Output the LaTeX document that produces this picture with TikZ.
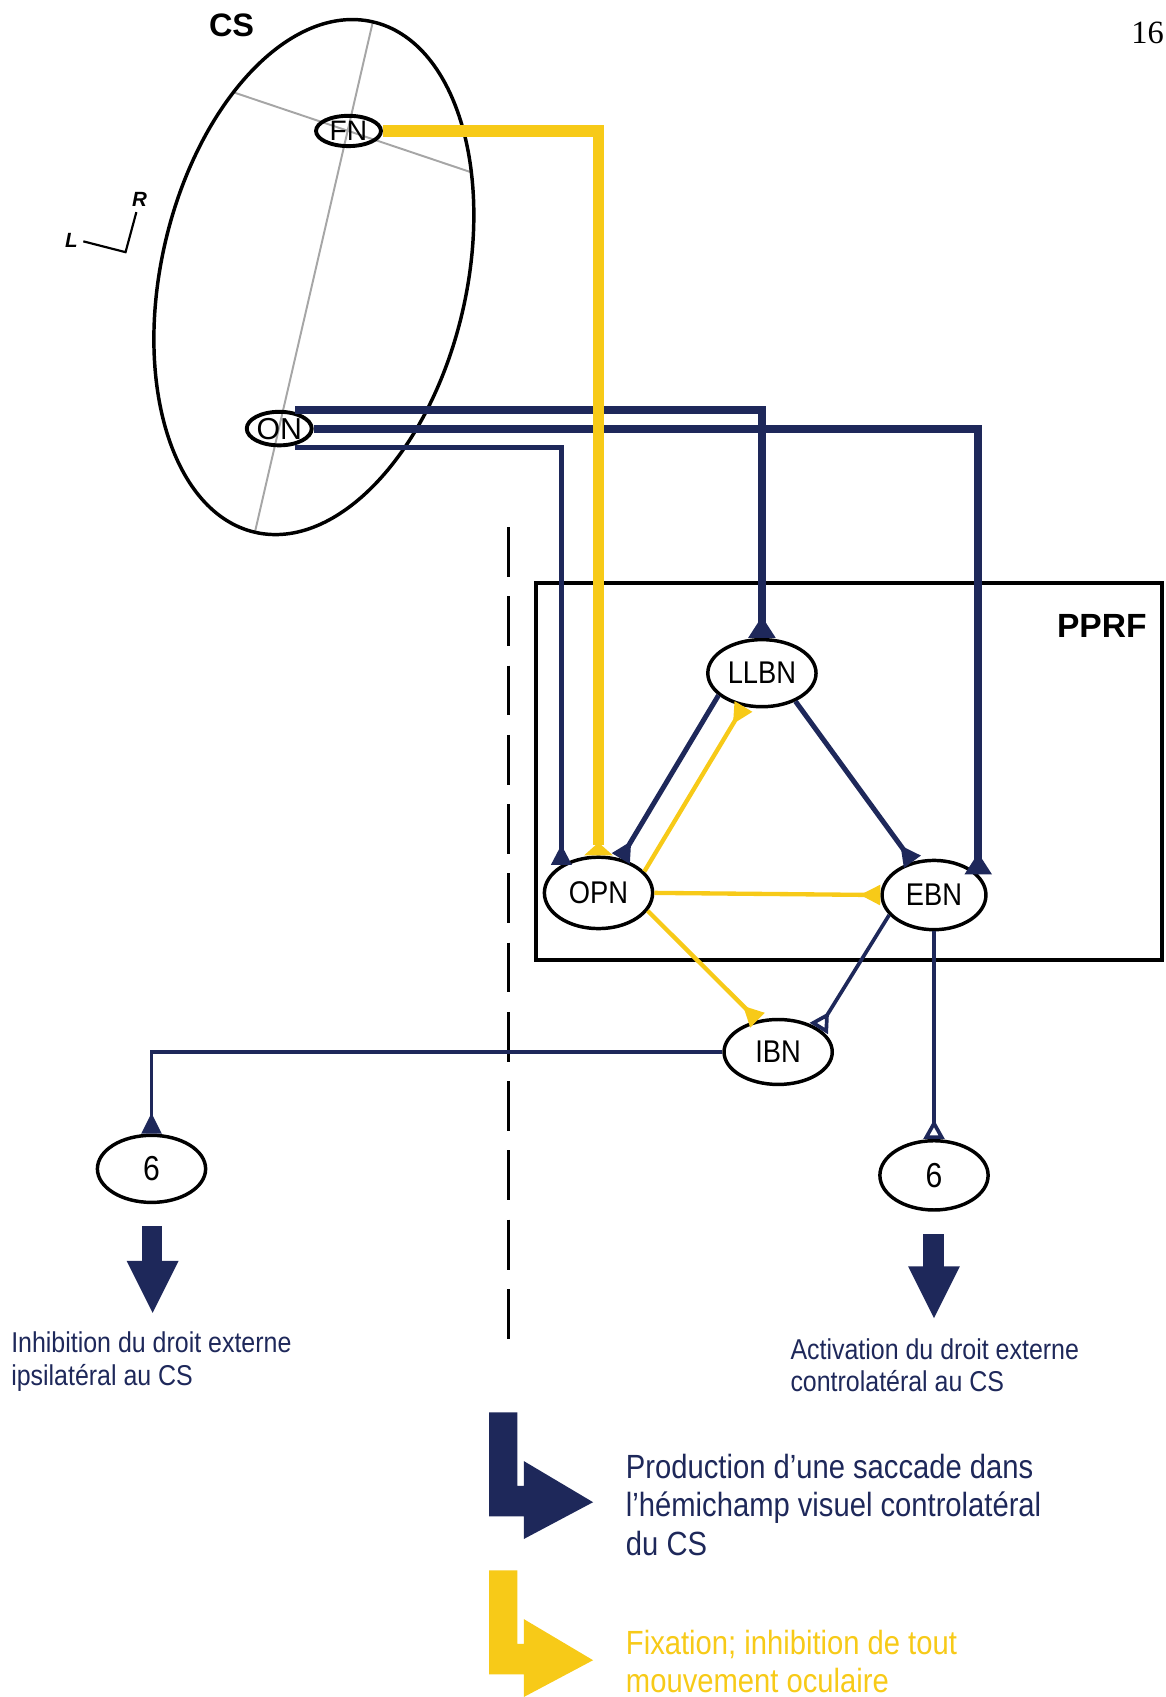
\documentclass[tikz,border=0pt]{standalone}
\usepackage{fontspec}
\setmainfont{Liberation Sans}
\newfontfamily\narrowsans{Liberation Sans}[FakeStretch=0.87]
\newfontfamily\numserif{Liberation Serif}
\usetikzlibrary{shapes.geometric,arrows.meta}
\definecolor{navy}{RGB}{30,40,90}
\definecolor{gold}{RGB}{247,202,24}
\tikzset{
  tipbig/.tip={Triangle[reversed,width=12pt,length=10pt]},
  tipsm/.tip={Triangle[reversed,width=9pt,length=9.5pt]},
  tipopen/.tip={Triangle[reversed,open,width=9.5pt,length=9pt]},
  tipflare/.tip={Triangle[reversed,width=13pt,length=6pt]},
}
\begin{document}
\begin{tikzpicture}[x=0.5pt,y=-0.5pt,
  nd/.style={ellipse,draw=black,line width=1.6pt,fill=white,inner sep=0pt,font=\narrowsans\fontsize{14.5pt}{16pt}\selectfont},
  csn/.style={ellipse,draw=black,line width=1.8pt,inner sep=0pt,minimum width=30pt},
  thickln/.style={draw=navy,line width=3.7pt},
  medln/.style={draw=navy,line width=2.3pt},
  thinln/.style={draw=navy,line width=1.7pt},
  yelthick/.style={draw=gold,line width=5.5pt},
  yelln/.style={draw=gold,line width=2pt},
  txt/.style={anchor=base west,align=left,inner sep=0pt},
]
\useasboundingbox (0,0) rectangle (1077,1568);

% PPRF box
\draw[line width=1.8pt] (495,539) rectangle (1074,887);
\node[font=\bfseries\fontsize{15.5pt}{17pt}\selectfont] (pprf) at (1018,578) {PPRF};

% midline
\draw[line width=1.5pt,dash pattern=on 23pt off 9pt] (470,487) -- (470,1240);

% superior colliculus
\begin{scope}
\clip[rotate around={-13:(290,256)}] (290,256) ellipse [x radius=141,y radius=242];
\draw[gray!70,line width=0.9pt] (348.5,2.8) -- (231.5,509.2);
\draw[gray!70,line width=0.9pt] (179.8,73.2) -- (464.2,168.9);
\end{scope}
\draw[line width=1.6pt,rotate around={-13:(290,256)}] (290,256) ellipse [x radius=141,y radius=242];
\node[font=\bfseries\fontsize{15pt}{17pt}\selectfont] (cs) at (214,23) {CS};

\node[csn,minimum height=14pt,font=\fontsize{13pt}{14pt}\selectfont] (FN) at (322,121) {FN};
\node[csn,minimum height=15.5pt,font=\fontsize{14pt}{15pt}\selectfont] (ON) at (258,396) {ON};

% orientation mark
\node[font=\bfseries\itshape\fontsize{9.5pt}{11pt}\selectfont] (Lb) at (66,222) {L};
\node[font=\bfseries\itshape\fontsize{9.5pt}{11pt}\selectfont] (Rb) at (129,184) {R};
\draw[line width=1pt] (77,223) -- (116,233) -- (126,196);

% nuclei
\node[nd,minimum width=50pt,minimum height=31pt] (LLBN) at (704,622) {LLBN};
\node[nd,minimum width=50pt,minimum height=33pt] (OPN) at (553,825) {OPN};
\node[nd,minimum width=48pt,minimum height=32pt] (EBN) at (863,827) {EBN};
\node[nd,minimum width=50pt,minimum height=30pt] (IBN) at (719,972) {IBN};
\node[nd,minimum width=50pt,minimum height=31pt,font=\narrowsans\fontsize{16pt}{17pt}\selectfont] (six1) at (140,1080) {6};
\node[nd,minimum width=50pt,minimum height=32pt,font=\narrowsans\fontsize{16pt}{17pt}\selectfont] (six2) at (863,1086) {6};

% navy connections
\draw[thickln,-{tipbig}] ([xshift=7.5pt]ON.north) -| (LLBN.north);
\draw[thickln,-{tipbig}] (ON.east) -| (EBN.25);
\draw[medln,-{tipsm}] ([xshift=7.5pt]ON.south) -| (OPN.143);
\draw[medln,-{tipsm}] (LLBN.207) -- (OPN.57);
\draw[medln,-{tipsm}] (LLBN.-40) -- (EBN.123);
\draw[thinln,-{tipopen}] (EBN.204) -- (IBN.30);
\draw[thinln,-{tipopen}] (EBN.south) -- (six2.north);
\draw[thinln,-{tipsm}] (IBN.west) -| (six1.north);

% yellow connections
\draw[yelthick,-{tipflare}] (FN.east) -| (OPN.north);
\draw[yelln,-{tipsm}] (OPN.25) -- (LLBN.241);
\draw[yelln,-{tipsm}] (OPN.east) -- (EBN.west);
\draw[yelln,-{tipsm}] (OPN.-20) -- (IBN.123);

% output arrows
\fill[navy] (131,1133) rectangle (150,1168);
\fill[navy] (117,1165) -- (165,1165) -- (141,1213) -- cycle;
\fill[navy] (853,1140) rectangle (872,1173);
\fill[navy] (839,1170) -- (887,1170) -- (863,1218) -- cycle;

\node[txt,text=navy,font=\narrowsans\fontsize{13.25pt}{15pt}\selectfont] (tl) at (10,1280) {Inhibition du droit externe\\ipsilatéral au CS};
\node[txt,text=navy,font=\narrowsans\fontsize{13.25pt}{15pt}\selectfont] (tr) at (730,1286) {Activation du droit externe\\controlatéral au CS};

% legend
\fill[navy] (452,1305) -- (478,1305) -- (478,1373) -- (484,1373) -- (484,1350) -- (548,1388) -- (484,1422) -- (484,1401) -- (452,1401) -- cycle;
\fill[gold] (452,1451) -- (478,1451) -- (478,1519) -- (484,1519) -- (484,1496) -- (548,1534) -- (484,1568) -- (484,1547) -- (452,1547) -- cycle;
\node[txt,text=navy,font=\narrowsans\fontsize{15.5pt}{17.75pt}\selectfont] (lg1) at (578,1437) {Production d’une saccade dans\\l’hémichamp visuel controlatéral\\du CS};
\node[txt,text=gold,font=\narrowsans\fontsize{15.5pt}{17.75pt}\selectfont] (lg2) at (578,1564) {Fixation; inhibition de tout\\mouvement oculaire};

\node[anchor=base west,inner sep=0pt,font=\numserif\fontsize{15pt}{17pt}\selectfont] (pg) at (1045,40) {16};
\end{tikzpicture}
\end{document}
